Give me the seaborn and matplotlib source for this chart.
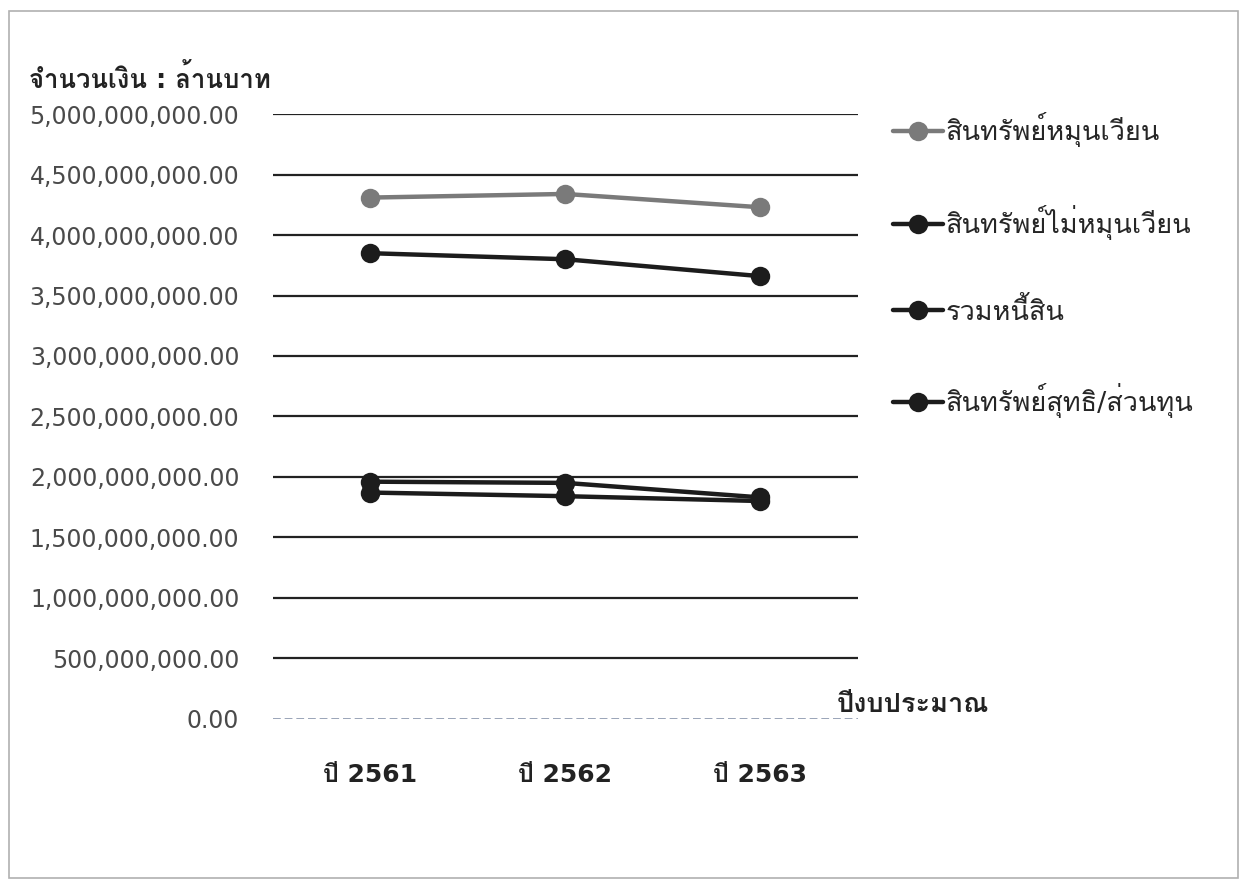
import numpy as np
import pandas as pd
import seaborn as sns
import matplotlib.pyplot as plt
from matplotlib import font_manager
from matplotlib.ft2font import FT2Font
from matplotlib.patches import Rectangle

# ข้อมูล (อ่านจากกราฟ)
years = ['ปี 2561', 'ปี 2562', 'ปี 2563']
series_names = ['สินทรัพย์หมุนเวียน', 'สินทรัพย์ไม่หมุนเวียน', 'รวมหนี้สิน', 'สินทรัพย์สุทธิ/ส่วนทุน']
current_assets = [4.31e9, 4.34e9, 4.23e9]
noncurrent_assets = [3.85e9, 3.80e9, 3.66e9]
liabilities = [1.96e9, 1.95e9, 1.83e9]
net_assets = [1.87e9, 1.84e9, 1.80e9]
yticks = np.arange(0, 5.0e9 + 1, 5e8)

# หา font ที่มีอักษรไทย
thai_font = None
for f in font_manager.fontManager.ttflist:
    try:
        if 0x0E08 in FT2Font(f.fname).get_charmap():
            thai_font = f.name
            break
    except Exception:
        pass

sns.set_theme(style='white')
plt.rcParams['font.family'] = ['DejaVu Sans', thai_font] if thai_font else ['DejaVu Sans']

rows = []
for name, vals in zip(series_names, [current_assets, noncurrent_assets, liabilities, net_assets]):
    for y, v in zip(years, vals):
        rows.append({'ปี': y, 'ค่า': v, 'รายการ': name})
df = pd.DataFrame(rows)

palette = {series_names[0]: '#7a7a7a', series_names[1]: '#1c1c1c',
           series_names[2]: '#1c1c1c', series_names[3]: '#1c1c1c'}

fig = plt.figure(figsize=(12.45, 8.85), dpi=100)
ax = fig.add_axes([0.219, 0.188, 0.470, 0.683])

# เส้นกริด
for t in yticks[1:]:
    ax.axhline(t, color='#222222', lw=1.6, zorder=0)
ax.axhline(0, color='#9aa4b8', lw=1.4, ls=(0, (4, 2)), zorder=0)

sns.lineplot(data=df, x='ปี', y='ค่า', hue='รายการ', hue_order=series_names,
             palette=palette, marker='o', markersize=14, lw=3.2,
             markeredgewidth=0, sort=False, ax=ax)

ax.set_xlim(-0.5, 2.5)
ax.set_ylim(0, 5e9)
ax.set_yticks(yticks)
ax.set_yticklabels(['{:,.2f}'.format(t) for t in yticks], fontsize=17, color='#4a4a4a')
ax.set_xticks(range(len(years)))
ax.set_xticklabels(years, fontsize=18, fontweight='bold', color='#222222')
ax.tick_params(axis='x', pad=32, length=0)
ax.tick_params(axis='y', pad=24, length=0)
for s in ax.spines.values():
    s.set_visible(False)
ax.set_xlabel('')
ax.set_ylabel('')

handles, labels = ax.get_legend_handles_labels()
ax.legend(handles, labels, loc='upper left', bbox_to_anchor=(1.041, 1.021),
          frameon=False, fontsize=19.5, labelspacing=2.13, handlelength=1.85,
          handletextpad=0.1, borderaxespad=0)

fig.text(0.023, 0.910, 'จำนวนเงิน : ล้านบาท', fontsize=18.5, fontweight='bold',
         color='#222222', ha='left', va='center')
fig.text(0.672, 0.203, 'ปีงบประมาณ', fontsize=19.5, fontweight='bold',
         color='#222222', ha='left', va='center')

fig.patches.append(Rectangle((0.007, 0.008), 0.987, 0.98, transform=fig.transFigure,
                             fill=False, edgecolor='#b0b0b0', lw=1.2))

fig.savefig('out.png', dpi=100)
